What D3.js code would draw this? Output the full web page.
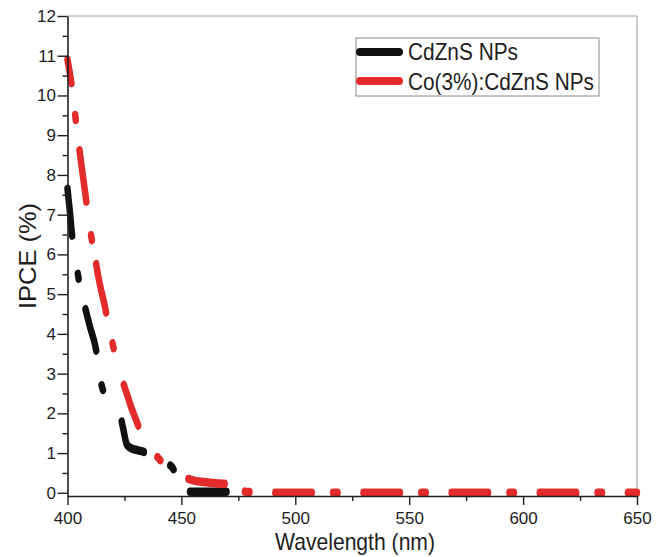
<!DOCTYPE html>
<html>
<head>
<meta charset="utf-8">
<script src="https://cdn.jsdelivr.net/npm/d3@7"></script>
<style>
  html, body { margin: 0; padding: 0; background: #fff; }
  svg { display: block; font-family: "Liberation Sans", Arial, sans-serif; }
</style>
</head>
<body>
<svg id="chart" width="665" height="557"></svg>
<script>
// ---- data ----
const seriesNames = ["CdZnS NPs", "Co(3%):CdZnS NPs"];

const cdznsWavelength = [400, 401, 402, 403, 404, 405, 406, 408, 410, 412, 414, 415, 417, 420, 423, 424.5, 426, 428, 431, 434, 438, 442, 446, 448, 450, 452, 456, 460, 465, 471];
const cdznsIPCE       = [7.65, 7.1, 6.5, 6.05, 5.7, 5.35, 5.05, 4.6, 4.15, 3.75, 3.1, 2.7, 2.45, 2.2, 1.98, 1.6, 1.22, 1.12, 1.07, 1.02, 0.9, 0.78, 0.64, 0.4, 0.1, 0.03, 0.03, 0.03, 0.03, 0.03];

const coWavelength = [400, 402, 404, 406, 408, 410, 412, 414, 416, 418, 420, 422, 424, 426, 428, 430, 432, 435, 438, 441, 444, 447, 450, 453, 456, 460, 465, 470, 473, 476, 480, 490, 500, 510, 520, 530, 540, 550, 560, 570, 580, 590, 600, 610, 620, 630, 640, 650];
const coIPCE       = [10.9, 10.2, 9.2, 8.3, 7.45, 6.6, 5.95, 5.3, 4.8, 4.25, 3.7, 3.25, 2.85, 2.5, 2.15, 1.85, 1.55, 1.2, 1.0, 0.8, 0.6, 0.48, 0.4, 0.35, 0.3, 0.27, 0.24, 0.22, 0.15, 0.05, 0.02, 0, 0, 0, 0, 0, 0, 0, 0, 0, 0, 0, 0, 0, 0, 0, 0, 0];

const xTicks = [400, 450, 500, 550, 600, 650];
const xMinorTicks = [425, 475, 525, 575, 625];
const yTicks = [0, 1, 2, 3, 4, 5, 6, 7, 8, 9, 10, 11, 12];
const yMinorTicks = [0.5, 1.5, 2.5, 3.5, 4.5, 5.5, 6.5, 7.5, 8.5, 9.5, 10.5, 11.5];
const xTitle = "Wavelength (nm)";
const yTitle = "IPCE (%)";
const colors = ["#111111", "#e32b2b"];

// ---- layout ----
const svg = d3.select("#chart");
const plotL = 67.5, plotR = 637, plotT = 16, plotB = 496;
const squeeze = 0.76; // horizontal squeeze of the reference's line artwork

const x = d3.scaleLinear().domain([400, 650]).range([plotL, plotR]);
const xLine = d3.scaleLinear().domain([400, 650]).range([plotL / squeeze, plotR / squeeze]);
const y = d3.scaleLinear().domain([-0.08, 12]).range([plotB, plotT]);

// frame (top and right)
svg.append("line").attr("x1", plotL).attr("x2", plotR).attr("y1", plotT).attr("y2", plotT)
  .attr("stroke", "#9a9a9a").attr("stroke-width", 1);
svg.append("line").attr("x1", plotR).attr("x2", plotR).attr("y1", plotT).attr("y2", plotB)
  .attr("stroke", "#9a9a9a").attr("stroke-width", 1);

// data lines (dash-dot style; drawn as two runs so the dash phase follows the reference)
const lineGroup = svg.append("g").attr("transform", `scale(${squeeze},1)`);
const lineGen = d3.line().x(d => xLine(d[0])).y(d => y(d[1])).curve(d3.curveMonotoneX);
const series = [
  { pts: d3.zip(cdznsWavelength, cdznsIPCE), color: colors[0], split: 438,
    runs: [{ dash: "47,39,5,32,44,35,5,41,48,100", offset: 0 },
           { dash: "48,28,6,34", offset: 53 }] },
  { pts: d3.zip(coWavelength, coIPCE), color: colors[1], split: 447,
    runs: [{ dash: "24,32,5,31,52,34,5,25,50,32,5,39,45,41,5,100", offset: 0 },
           { dash: "48,28,6,34", offset: 97 }] }
];
series.forEach(s => {
  const parts = [s.pts.filter(p => p[0] <= s.split), s.pts.filter(p => p[0] >= s.split)];
  parts.forEach((pts, i) => {
    lineGroup.append("path")
      .attr("d", lineGen(pts))
      .attr("fill", "none")
      .attr("stroke", s.color)
      .attr("stroke-width", 8.5)
      .attr("stroke-linecap", "round")
      .attr("stroke-linejoin", "round")
      .attr("stroke-dasharray", s.runs[i].dash)
      .attr("stroke-dashoffset", s.runs[i].offset);
  });
});

// axes
const axisColor = "#1e1e1e";
function styleAxis(g) {
  g.selectAll("path.domain").attr("stroke", axisColor).attr("stroke-width", 1.6);
  g.selectAll(".tick line").attr("stroke", axisColor).attr("stroke-width", 1.4);
  g.selectAll(".tick text").attr("fill", "#1e1e1e").style("font-size", "17px")
    .style("font-family", '"Liberation Sans", Arial, sans-serif');
}

const xMinor = svg.append("g").attr("transform", `translate(0,${plotB})`)
  .call(d3.axisBottom(x).tickValues(xMinorTicks).tickSize(5).tickFormat(""));
xMinor.select("path.domain").remove();
xMinor.selectAll(".tick line").attr("stroke", axisColor).attr("stroke-width", 1.4);

const yMinor = svg.append("g").attr("transform", `translate(${plotL},0)`)
  .call(d3.axisLeft(y).tickValues(yMinorTicks).tickSize(5).tickFormat(""));
yMinor.select("path.domain").remove();
yMinor.selectAll(".tick line").attr("stroke", axisColor).attr("stroke-width", 1.4);

const xAxis = svg.append("g").attr("transform", `translate(0,${plotB})`)
  .call(d3.axisBottom(x).tickValues(xTicks).tickSize(9).tickSizeOuter(0).tickPadding(7).tickFormat(d3.format("d")));
styleAxis(xAxis);

const yAxis = svg.append("g").attr("transform", `translate(${plotL},0)`)
  .call(d3.axisLeft(y).tickValues(yTicks).tickSize(10).tickSizeOuter(0).tickPadding(1.5).tickFormat(d3.format("d")));
styleAxis(yAxis);

// titles
svg.append("text")
  .attr("x", 355).attr("y", 550)
  .attr("text-anchor", "middle")
  .attr("textLength", 160).attr("lengthAdjust", "spacingAndGlyphs")
  .style("font-size", "24px").attr("fill", "#1e1e1e")
  .text(xTitle);

svg.append("text")
  .attr("transform", "translate(36,256) rotate(-90)")
  .attr("text-anchor", "middle")
  .attr("textLength", 106).attr("lengthAdjust", "spacingAndGlyphs")
  .style("font-size", "24px").attr("fill", "#1e1e1e")
  .text(yTitle);

// legend
const legend = svg.append("g");
legend.append("rect").attr("x", 356).attr("y", 38).attr("width", 243).attr("height", 58)
  .attr("fill", "#fff").attr("stroke", "#8a8a8a").attr("stroke-width", 1);
const legendRows = [
  { name: seriesNames[0], color: colors[0], ly: 52, ty: 60, len: 110 },
  { name: seriesNames[1], color: colors[1], ly: 81, ty: 89.5, len: 186 }
];
legendRows.forEach(r => {
  legend.append("line").attr("x1", 360).attr("x2", 399).attr("y1", r.ly).attr("y2", r.ly)
    .attr("stroke", r.color).attr("stroke-width", 8).attr("stroke-linecap", "round");
  legend.append("text").attr("x", 408).attr("y", r.ty)
    .attr("textLength", r.len).attr("lengthAdjust", "spacingAndGlyphs")
    .style("font-size", "24px").attr("fill", "#1e1e1e")
    .text(r.name);
});
</script>
</body>
</html>
